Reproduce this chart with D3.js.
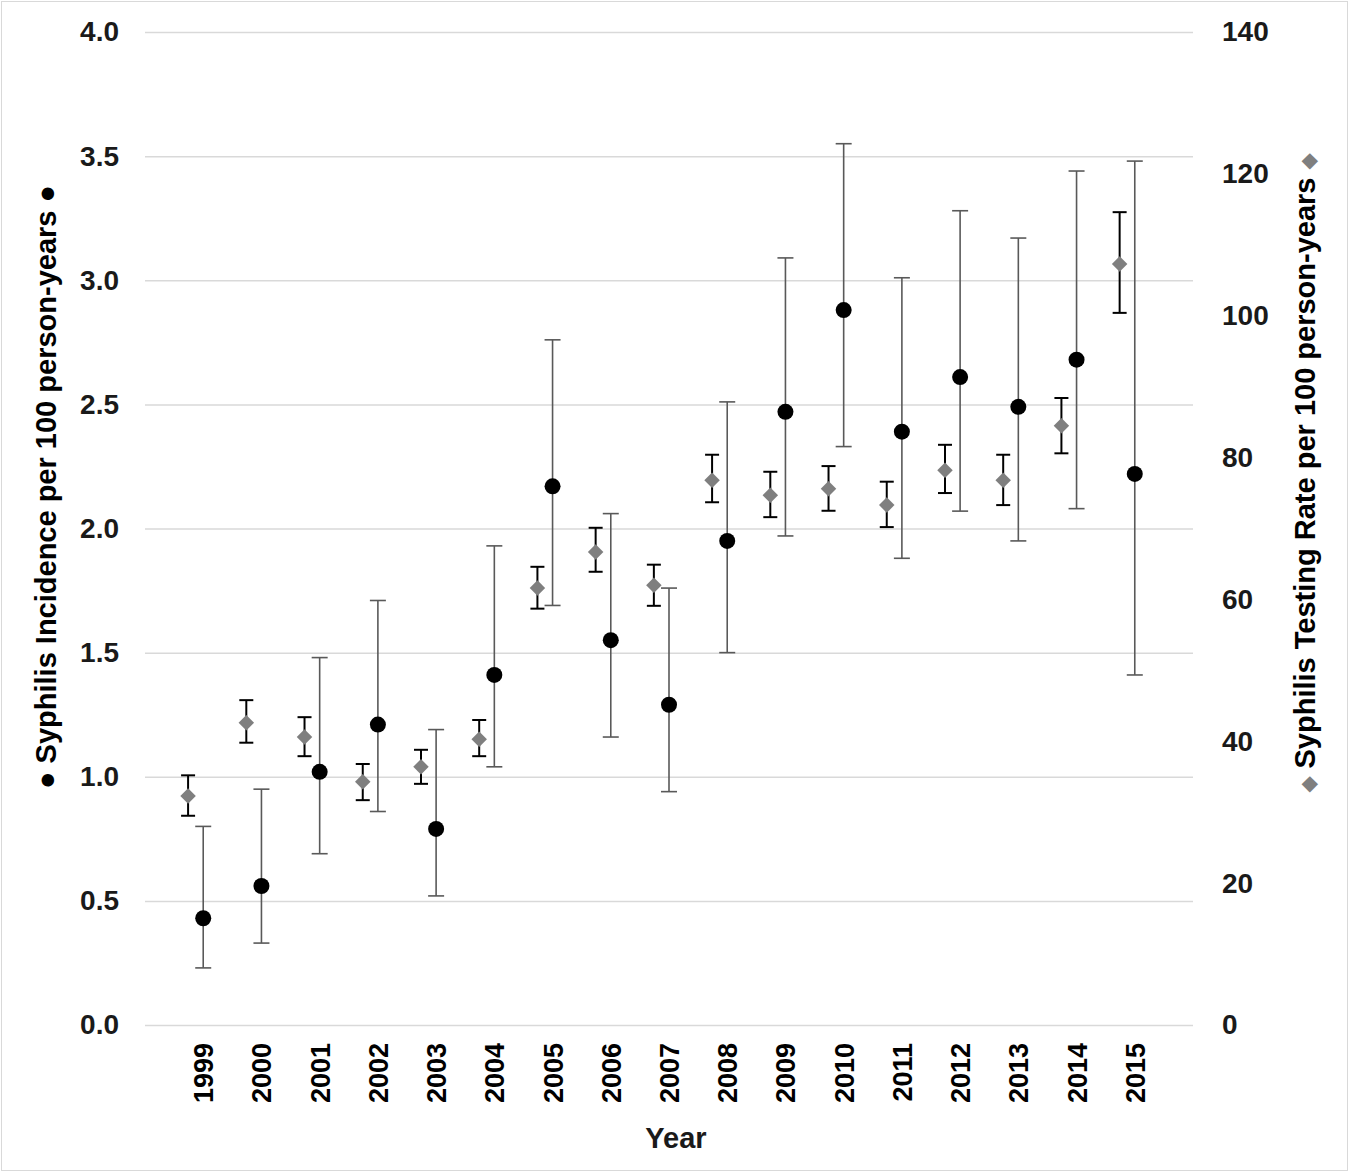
<!DOCTYPE html>
<html>
<head>
<meta charset="utf-8">
<script src="https://cdn.jsdelivr.net/npm/d3@7.9.0/dist/d3.min.js"></script>
<style>
  body { margin: 0; background: #fff; }
  text { font-family: "Liberation Sans", Arial, sans-serif; font-weight: bold; }
</style>
</head>
<body>
<svg id="chart" width="1349" height="1172"></svg>
<script>
// data
const years = [1999, 2000, 2001, 2002, 2003, 2004, 2005, 2006, 2007, 2008, 2009, 2010, 2011, 2012, 2013, 2014, 2015];

// syphilis incidence per 100 person-years (left axis)
const incidence    = [0.43, 0.56, 1.02, 1.21, 0.79, 1.41, 2.17, 1.55, 1.29, 1.95, 2.47, 2.88, 2.39, 2.61, 2.49, 2.68, 2.22];
const incidenceLow = [0.23, 0.33, 0.69, 0.86, 0.52, 1.04, 1.69, 1.16, 0.94, 1.50, 1.97, 2.33, 1.88, 2.07, 1.95, 2.08, 1.41];
const incidenceHigh = [0.80, 0.95, 1.48, 1.71, 1.19, 1.93, 2.76, 2.06, 1.76, 2.51, 3.09, 3.55, 3.01, 3.28, 3.17, 3.44, 3.48];

// syphilis testing rate per 100 person-years (right axis)
const testing     = [32.3, 42.6, 40.6, 34.3, 36.4, 40.3, 61.6, 66.7, 62.0, 76.8, 74.7, 75.6, 73.3, 78.2, 76.8, 84.5, 107.3];
const testingLow  = [29.5, 39.8, 37.9, 31.7, 34.0, 37.9, 58.7, 63.9, 59.1, 73.7, 71.6, 72.5, 70.2, 75.0, 73.3, 80.6, 100.4];
const testingHigh = [35.2, 45.8, 43.4, 36.8, 38.8, 43.0, 64.6, 70.1, 64.9, 80.4, 78.0, 78.8, 76.6, 81.8, 80.4, 88.4, 114.6];

const leftTicks = [0, 0.5, 1.0, 1.5, 2.0, 2.5, 3.0, 3.5, 4.0];
const rightTicks = [0, 20, 40, 60, 80, 100, 120, 140];

const svg = d3.select('#chart');

// outer frame
svg.append('rect')
    .attr('x', 1.5).attr('y', 1.5)
    .attr('width', 1346).attr('height', 1169)
    .attr('fill', 'none')
    .attr('stroke', '#d9d9d9');

let x = d3.scaleLinear().domain([1998, 2016]).range([145, 1193]);
let yL = d3.scaleLinear().domain([0, 4]).range([1025, 32]);
let yR = d3.scaleLinear().domain([0, 140]).range([1025, 32]);

// gridlines
svg.append('g')
    .attr('transform', 'translate(145,0)')
    .call(d3.axisLeft(yL).tickValues(leftTicks).tickSize(-1048).tickFormat(''))
    .call(g => g.select('.domain').remove())
    .call(g => g.selectAll('line').attr('stroke', '#d9d9d9').attr('stroke-width', 1.5));

// left axis labels
svg.append('g')
    .attr('transform', 'translate(122,0)')
    .call(d3.axisLeft(yL).tickValues(leftTicks).tickSize(0).tickFormat(d3.format('.1f')))
    .call(g => g.select('.domain').remove())
    .call(g => g.selectAll('text').attr('font-size', 28).attr('fill', '#1a1a1a')
        .attr('font-family', '"Liberation Sans", Arial, sans-serif').attr('font-weight', 'bold'));

// right axis labels
svg.append('g')
    .attr('transform', 'translate(1219,0)')
    .call(d3.axisRight(yR).tickValues(rightTicks).tickSize(0))
    .call(g => g.select('.domain').remove())
    .call(g => g.selectAll('text').attr('font-size', 28).attr('fill', '#1a1a1a')
        .attr('font-family', '"Liberation Sans", Arial, sans-serif').attr('font-weight', 'bold'));

// year labels (rotated)
svg.append('g')
    .selectAll('text')
    .data(years)
    .join('text')
    .attr('transform', d => `translate(${x(d) + 10},1043) rotate(-90)`)
    .attr('text-anchor', 'end')
    .attr('font-size', 27)
    .attr('fill', '#000')
    .text(d => d);

// axis titles
svg.append('text')
    .attr('x', 676).attr('y', 1148)
    .attr('text-anchor', 'middle')
    .attr('font-size', 29)
    .attr('fill', '#1a1a1a')
    .text('Year');

let leftTitle = svg.append('text')
    .attr('transform', 'translate(56,487) rotate(-90)')
    .attr('text-anchor', 'middle')
    .attr('font-size', 29)
    .attr('fill', '#000');
leftTitle.text('● Syphilis Incidence per 100 person-years ●');

let rightTitle = svg.append('text')
    .attr('transform', 'translate(1315,473) rotate(-90)')
    .attr('text-anchor', 'middle')
    .attr('font-size', 29)
    .attr('fill', '#000');
rightTitle.append('tspan').attr('fill', '#7f7f7f').attr('font-size', 20).text('◆');
rightTitle.append('tspan').text(' Syphilis Testing Rate per 100 person-years ');
rightTitle.append('tspan').attr('fill', '#7f7f7f').attr('font-size', 20).text('◆');

// incidence and testing rows
const incData = years.map((yr, i) => ({ yr, v: incidence[i], lo: incidenceLow[i], hi: incidenceHigh[i] }));
const testData = years.map((yr, i) => ({ yr, v: testing[i], lo: testingLow[i], hi: testingHigh[i] }));
const testOffset = -0.26;

// incidence error bars
let incBars = svg.append('g').attr('stroke', '#595959').attr('stroke-width', 1.6);
incData.forEach(d => {
    let cx = x(d.yr);
    incBars.append('line').attr('x1', cx).attr('x2', cx).attr('y1', yL(d.lo)).attr('y2', yL(d.hi));
    incBars.append('line').attr('x1', cx - 8).attr('x2', cx + 8).attr('y1', yL(d.lo)).attr('y2', yL(d.lo));
    incBars.append('line').attr('x1', cx - 8).attr('x2', cx + 8).attr('y1', yL(d.hi)).attr('y2', yL(d.hi));
});

// testing error bars
let testBars = svg.append('g').attr('stroke', '#000').attr('stroke-width', 2);
testData.forEach(d => {
    let cx = x(d.yr + testOffset);
    testBars.append('line').attr('x1', cx).attr('x2', cx).attr('y1', yR(d.lo)).attr('y2', yR(d.hi));
    testBars.append('line').attr('x1', cx - 7).attr('x2', cx + 7).attr('y1', yR(d.lo)).attr('y2', yR(d.lo));
    testBars.append('line').attr('x1', cx - 7).attr('x2', cx + 7).attr('y1', yR(d.hi)).attr('y2', yR(d.hi));
});

// diamonds
svg.append('g')
    .selectAll('path')
    .data(testData)
    .join('path')
    .attr('d', d3.symbol(d3.symbolSquare, 120))
    .attr('transform', d => `translate(${x(d.yr + testOffset)},${yR(d.v)}) rotate(45)`)
    .attr('fill', '#7f7f7f');

// circles
svg.append('g')
    .selectAll('circle')
    .data(incData)
    .join('circle')
    .attr('cx', d => x(d.yr))
    .attr('cy', d => yL(d.v))
    .attr('r', 8)
    .attr('fill', '#000');
</script>
</body>
</html>
